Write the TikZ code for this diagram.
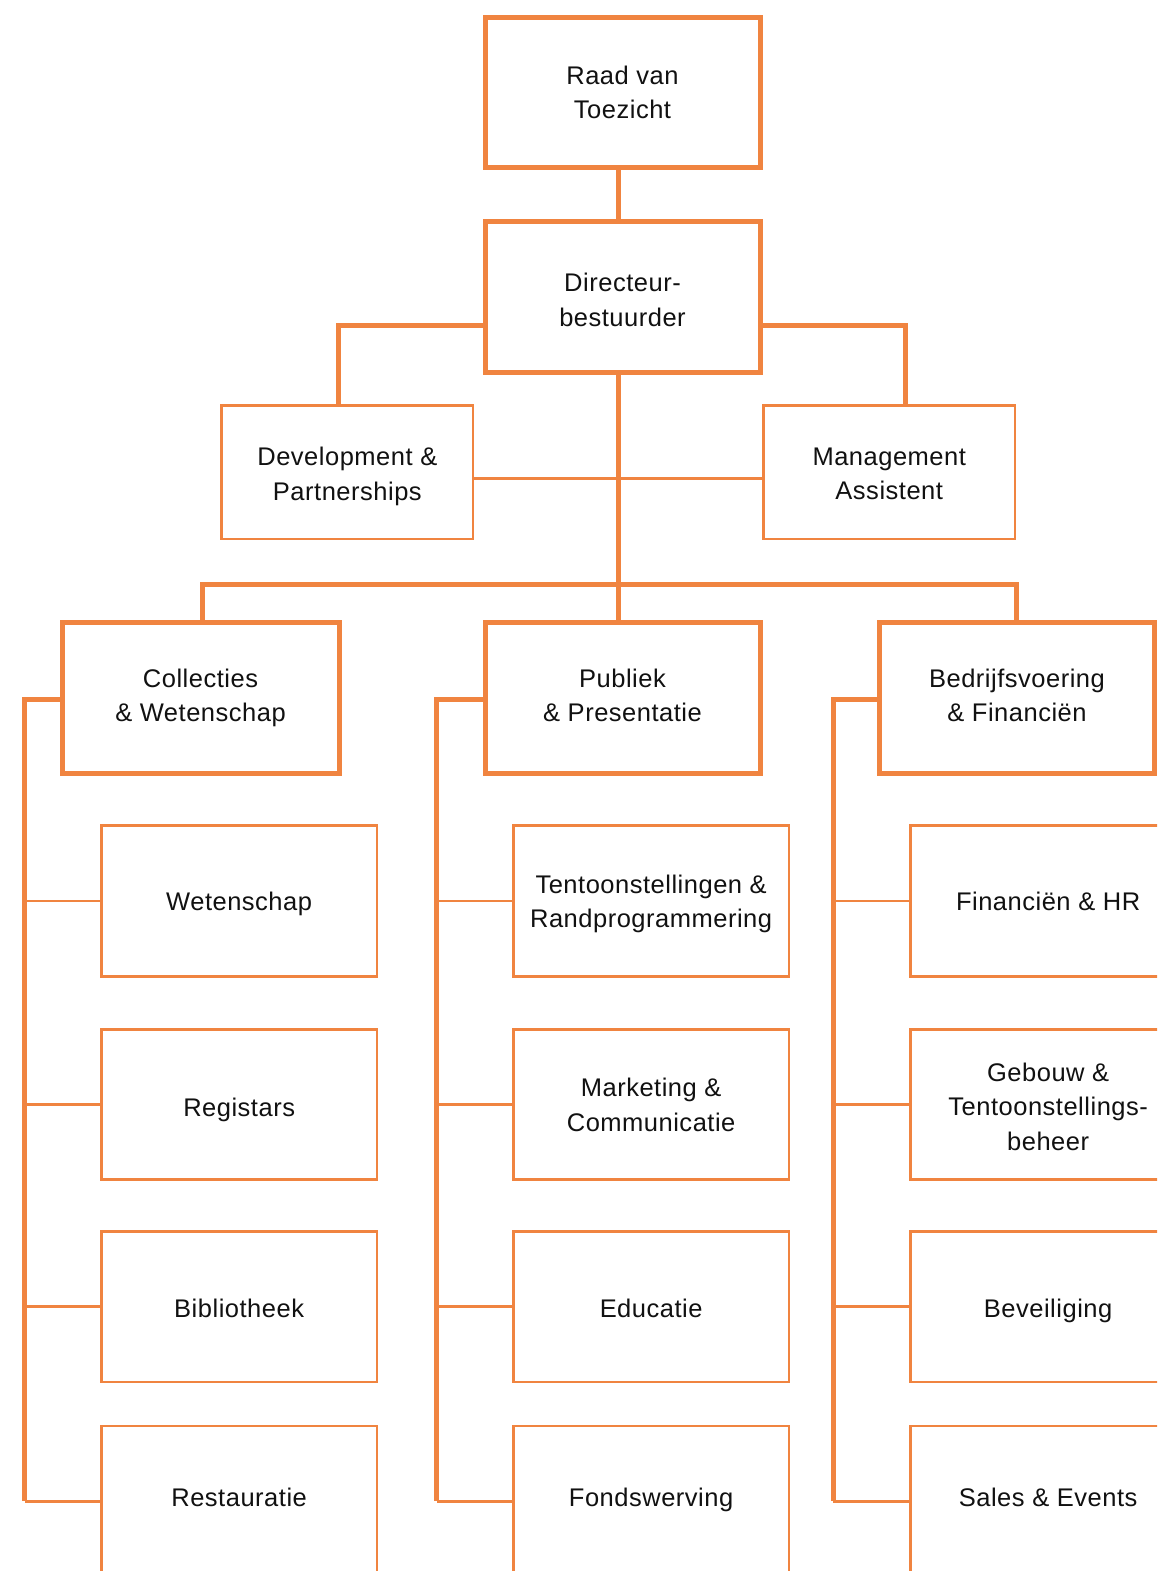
\documentclass[tikz,border=0pt]{standalone}
\usepackage{fontspec}
\setmainfont{Liberation Sans}[LetterSpace=2]
\definecolor{org}{RGB}{240,132,64}
\definecolor{ink}{RGB}{17,17,17}
\begin{document}
\begin{tikzpicture}[x=1pt,y=-1pt,
  lbl/.style={align=center,inner sep=0pt,text depth=0pt,text=ink,
    font=\fontsize{25.5}{34.5}\selectfont},
  thickbox/.style={lbl,draw=org,line width=5pt,minimum width=275pt,minimum height=151pt},
  devbox/.style={lbl,draw=org,line width=2.8pt,minimum width=251.3pt,minimum height=133.5pt},
  subbox/.style={lbl,draw=org,line width=2.8pt,minimum width=275.7pt,minimum height=150.5pt},
  thk/.style={draw=org,line width=5pt},
  thn/.style={draw=org,line width=2.8pt}]
\useasboundingbox (0,0) rectangle (1157,1571);
\fill[white] (0,0) rectangle (1157,1571);
\clip (0,0) rectangle (1157,1571);

% top levels
\node[thickbox,minimum height=150pt] (raad) at (622.5,92.5) {Raad van\\Toezicht};
\node[thickbox,text height=58pt] (dir) at (622.5,297) {Directeur-\\bestuurder};
\node[devbox,text height=55.8pt] (dev) at (347.35,472.25) {Development \&\\Partnerships};
\node[devbox,text height=55pt] (mgmt) at (889.25,472.25) {Management\\Assistent};

% department heads
\node[thickbox,minimum width=277pt,text depth=4pt] (coll) at (200.5,697.5) {Collecties\\\& Wetenschap};
\node[thickbox,text depth=4pt] (publ) at (622.5,697.5) {Publiek\\\& Presentatie};
\node[thickbox,text depth=4pt] (bedr) at (1017,697.5) {Bedrijfsvoering\\\& Financiën};

% column 1
\node[subbox] (a1) at (239.15,901) {Wetenschap};
\node[subbox,text height=24.3pt] (a2) at (239.15,1104.5) {Registars};
\node[subbox,text height=22.3pt] (a3) at (239.15,1306.75) {Bibliotheek};
\node[subbox,text depth=9pt] (a4) at (239.15,1501.25) {Restauratie};
% column 2
\node[subbox] (b1) at (651.15,901) {Tentoonstellingen \&\\Randprogrammering};
\node[subbox] (b2) at (651.15,1104.5) {Marketing \&\\Communicatie};
\node[subbox,text height=22.3pt] (b3) at (651.15,1306.75) {Educatie};
\node[subbox,text depth=9pt] (b4) at (651.15,1501.25) {Fondswerving};
% column 3
\node[subbox] (c1) at (1048.15,901) {Financiën \& HR};
\node[subbox,text height=91.3pt] (c2) at (1048.15,1104.5) {Gebouw \&\\Tentoonstellings-\\beheer};
\node[subbox,text height=22.3pt] (c3) at (1048.15,1306.75) {Beveiliging};
\node[subbox,text depth=9pt] (c4) at (1048.15,1501.25) {Sales \& Events};

% connector points
\coordinate (spine) at (618,584);
\coordinate (dL) at (338,325.7);
\coordinate (dR) at (905,325.7);
\coordinate (hm) at (618,478.3);
\coordinate (busL) at (202,584);
\coordinate (busR) at (1016,584);
\coordinate (k1) at (24.5,699.5);
\coordinate (k2) at (436.8,699.5);
\coordinate (k3) at (833,699.5);

% connectors
\draw[thk] (raad.south -| spine) -- (dir.north -| spine);
\draw[thk] (dir.south -| spine) -- (publ.north -| spine);
\draw[thk] (dir.west |- dL) -- (dL) -- (dev.north -| dL);
\draw[thk] (dir.east |- dR) -- (dR) -- (mgmt.north -| dR);
\draw[thn] (dev.east |- hm) -- (mgmt.west |- hm);
\draw[thk] (coll.north -| busL) -- (busL) -- (busR) -- (bedr.north -| busR);

\draw[thk] (coll.west |- k1) -- (k1) -- (k1 |- a4.west);
\draw[thk] (publ.west |- k2) -- (k2) -- (k2 |- b4.west);
\draw[thk] (bedr.west |- k3) -- (k3) -- (k3 |- c4.west);
\foreach \n in {1,2,3,4}{
  \draw[thn] (k1 |- a\n.west) -- (a\n.west);
  \draw[thn] (k2 |- b\n.west) -- (b\n.west);
  \draw[thn] (k3 |- c\n.west) -- (c\n.west);
}
\end{tikzpicture}
\end{document}
